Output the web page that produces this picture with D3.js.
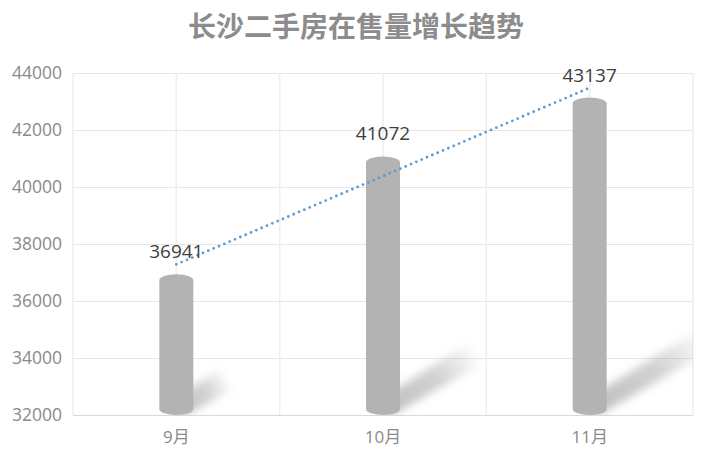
<!DOCTYPE html>
<html>
<head>
<meta charset="utf-8">
<script src="https://cdn.jsdelivr.net/npm/d3@7"></script>
<style>
html,body{margin:0;padding:0;background:#fff;}
svg{display:block;}
</style>
</head>
<body>
<script>
const title = "长沙二手房在售量增长趋势";
const categories = ["9月", "10月", "11月"];
const values = [36941, 41072, 43137];
const yTicks = [32000, 34000, 36000, 38000, 40000, 42000, 44000];

const W = 709, H = 461;
const plot = {left: 73, right: 693, top: 73, bottom: 415};

const svg = d3.select("body").append("svg").attr("width", W).attr("height", H);
const defs = svg.append("defs");

const x = d3.scaleBand().domain(categories).range([plot.left, plot.right]).padding(0);
const y = d3.scaleLinear().domain([32000, 44000]).range([plot.bottom, plot.top]);

defs.append("clipPath").attr("id", "plotClip").append("rect")
  .attr("x", plot.left).attr("y", plot.top)
  .attr("width", plot.right - plot.left).attr("height", plot.bottom - plot.top);
defs.append("filter").attr("id", "blur").attr("x", "-50%").attr("y", "-50%").attr("width", "200%").attr("height", "200%")
  .append("feGaussianBlur").attr("stdDeviation", 4);

// title
svg.append("text").attr("x", 356).attr("y", 37).attr("text-anchor", "middle")
  .attr("font-family", "'Noto Sans CJK SC', sans-serif").attr("font-size", 28).attr("font-weight", 700)
  .attr("fill", "#8c8c8c").text(title);

// gridlines
const g = svg.append("g");
g.selectAll("line.h").data(yTicks).join("line")
  .attr("x1", plot.left).attr("x2", plot.right)
  .attr("y1", d => Math.round(y(d)) + 0.5).attr("y2", d => Math.round(y(d)) + 0.5)
  .attr("stroke", d => d === 32000 ? "#d9d9d9" : "#e6e6e6").attr("stroke-width", 1);
const half = x.bandwidth() / 2;
const vx = d3.range(0, categories.length * 2 + 1).map(i => plot.left + i * half);
g.selectAll("line.v").data(vx).join("line")
  .attr("x1", d => d).attr("x2", d => d)
  .attr("y1", plot.top).attr("y2", plot.bottom)
  .attr("stroke", "#efefef").attr("stroke-width", 1.6);

// y tick labels
svg.append("g").selectAll("text").data(yTicks).join("text")
  .attr("x", 62).attr("y", d => y(d)).attr("dy", "0.36em").attr("text-anchor", "end")
  .attr("font-family", "'Open Sans', sans-serif").attr("font-size", 17.5)
  .attr("fill", "#8a8a8a").text(d => d);

// x labels
svg.append("g").selectAll("text").data(categories).join("text")
  .attr("x", d => x(d) + half).attr("y", 437).attr("dy", "0.36em").attr("text-anchor", "middle")
  .attr("font-family", "'Open Sans', 'Noto Sans CJK SC', sans-serif").attr("font-size", 17)
  .attr("fill", "#8a8a8a").text(d => d);

// shadows
const bw = 34, ry = 6;
const shadowG = svg.append("g").attr("clip-path", "url(#plotClip)");
categories.forEach((c, i) => {
  const cx = x(c) + half;
  const h = plot.bottom - y(values[i]);
  const sx = cx, sy = plot.bottom - ry;
  const dx = 0.35 * h, dy = -0.21 * h;
  const len = Math.hypot(dx, dy);
  const nx = -dy / len * 10, ny = dx / len * 10;
  const gid = "sg" + i;
  const lg = defs.append("linearGradient").attr("id", gid).attr("gradientUnits", "userSpaceOnUse")
    .attr("x1", sx).attr("y1", sy).attr("x2", sx + dx).attr("y2", sy + dy);
  lg.append("stop").attr("offset", 0).attr("stop-color", "#888").attr("stop-opacity", 0.55);
  lg.append("stop").attr("offset", 0.6).attr("stop-color", "#888").attr("stop-opacity", 0.38);
  lg.append("stop").attr("offset", 1).attr("stop-color", "#888").attr("stop-opacity", 0.05);
  const pts = [[sx - nx, sy - ny], [sx + dx - nx * 1.2, sy + dy - ny * 1.2],
               [sx + dx + nx * 1.2, sy + dy + ny * 1.2], [sx + nx, sy + ny]];
  shadowG.append("path").attr("d", "M" + pts.map(p => p.join(",")).join("L") + "Z")
    .attr("fill", "url(#" + gid + ")").attr("filter", "url(#blur)");
});

// cylinders
svg.append("g").selectAll("path").data(values).join("path")
  .attr("d", (v, i) => {
    const cx = x(categories[i]) + half;
    const l = cx - bw / 2, r = cx + bw / 2;
    const t = y(v), b = plot.bottom;
    return `M${l},${t + ry} A${bw / 2},${ry} 0 0 1 ${r},${t + ry} V${b - ry} A${bw / 2},${ry} 0 0 1 ${l},${b - ry} Z`;
  })
  .attr("fill", "#b2b3b2");

// linear trendline from regression
const xs = values.map((v, i) => i + 1);
const mx = d3.mean(xs), my = d3.mean(values);
const slope = d3.sum(xs.map((xi, i) => (xi - mx) * (values[i] - my))) / d3.sum(xs.map(xi => (xi - mx) ** 2));
const icpt = my - slope * mx;
const trend = xs.map((xi, i) => [x(categories[i]) + half, y(icpt + slope * xi)]);
svg.append("path").attr("d", d3.line()(trend))
  .attr("fill", "none").attr("stroke", "#5b9bd5").attr("stroke-width", 2.8)
  .attr("stroke-linecap", "round").attr("stroke-dasharray", "0,5.8");

// data labels
svg.append("g").selectAll("text").data(values).join("text")
  .attr("x", (v, i) => x(categories[i]) + half).attr("y", v => y(v) - 16)
  .attr("text-anchor", "middle")
  .attr("font-family", "'Open Sans', sans-serif").attr("font-size", 19)
  .attr("fill", "#404040").text(v => v);
</script>
</body>
</html>
